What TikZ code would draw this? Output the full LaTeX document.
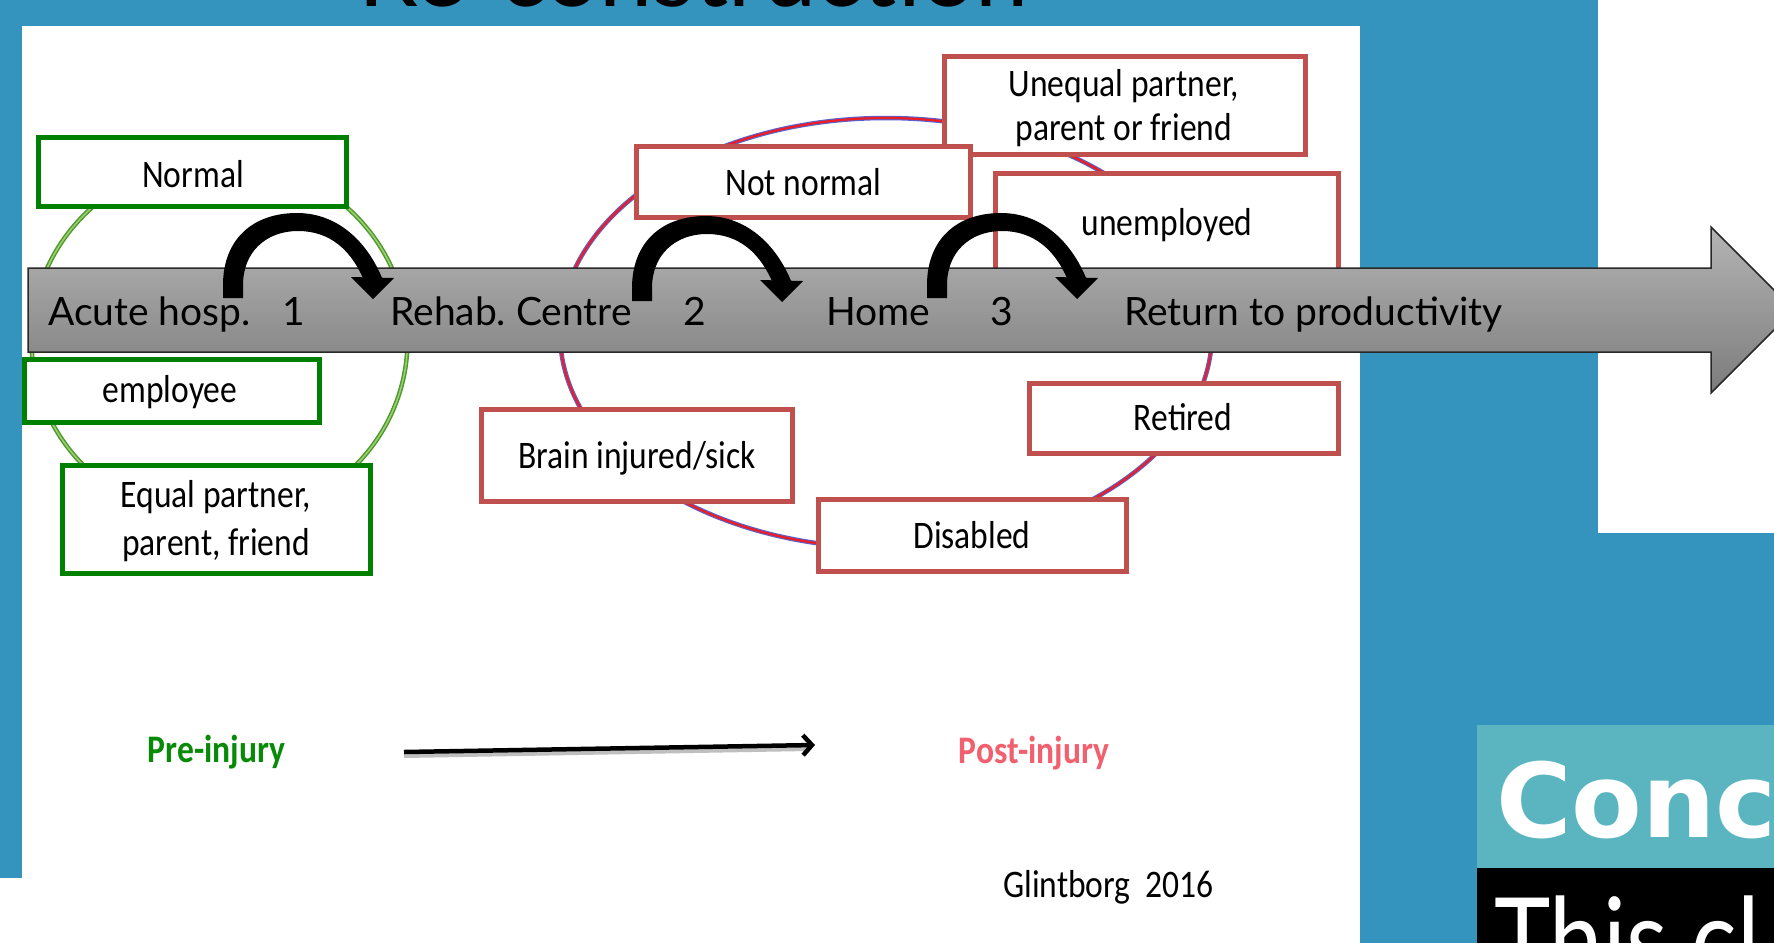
\documentclass[tikz,border=0pt]{standalone}
\usepackage{fontspec}
\setmainfont{Lato}
\newfontfamily\boxfont[FakeStretch=0.86]{Carlito}
\newfontfamily\gillfont{Lato}
\newfontfamily\verdfont{DejaVu Sans}
\newfontfamily\thisfont[FakeStretch=0.83]{Lato}
\usetikzlibrary{arrows.meta}
\frenchspacing
\definecolor{bgblue}{HTML}{3594BD}
\definecolor{boxgreen}{HTML}{008000}
\definecolor{boxred}{HTML}{C0504D}
\definecolor{ellgreen}{HTML}{4F9A28}
\definecolor{ellgreenlt}{HTML}{9CCF7A}
\definecolor{ellred}{HTML}{F01C24}
\definecolor{ellblue}{HTML}{5A60C8}
\definecolor{concteal}{HTML}{5AB5C0}
\definecolor{postred}{HTML}{F0606E}
\definecolor{pregreen}{HTML}{078A07}
\definecolor{arrtop}{HTML}{B4B4B4}
\definecolor{arrbot}{HTML}{7C7C7C}
\definecolor{arredge}{HTML}{282828}
\begin{document}
\begin{tikzpicture}[x=1pt,y=-1pt,
  gbox/.style={draw=boxgreen, line width=5pt, fill=white, inner sep=0pt},
  rbox/.style={draw=boxred, line width=5pt, fill=white, inner sep=0pt},
  lbl/.style={font=\boxfont\fontsize{39pt}{46pt}\selectfont, inner sep=0pt, anchor=base},
  arrtxt/.style={font=\gillfont\fontsize{39pt}{46pt}\selectfont, inner sep=0pt, anchor=base west},
  arrnum/.style={font=\gillfont\fontsize{39pt}{46pt}\selectfont, inner sep=0pt, anchor=base},
  bendarrow/.pic={
    \fill[black] (223,298) -- (223,285) .. controls (223,240) and (252,213) .. (297,213)
      .. controls (340,213) and (370,245) .. (384,283) -- (365,283)
      .. controls (352,250) and (330,231) .. (298,231)
      .. controls (266,231) and (243,252) .. (243,285) -- (243,298) -- cycle;
    \fill[black] (351,277) -- (394,278) -- (373,299) -- cycle;
  }]
\useasboundingbox (0,0) rectangle (1774,943);
\clip (0,0) rectangle (1774,943);
% background panels
\fill[bgblue] (0,0) rectangle (1774,943);
\fill[white] (22,26) rectangle (1360,943);
\fill[white] (0,878) rectangle (22,943);
\fill[white] (1598,0) rectangle (1774,533);
\fill[concteal] (1477,725) rectangle (1774,868);
\fill[black] (1477,868) rectangle (1774,943);
% title
\node[anchor=base west, inner sep=0pt, text=black, font=\gillfont\fontsize{93pt}{93pt}\selectfont] (title) at (358,6) {\resizebox{670pt}{!}{Re-construction}};
% ellipses
\draw[ellgreen, line width=4.5pt] (219.5,340.5) ellipse [x radius=188pt, y radius=181pt];
\draw[ellgreenlt, line width=1.5pt] (219.5,340.5) ellipse [x radius=188pt, y radius=181pt];
\draw[ellblue, line width=4.5pt] (886,333) ellipse [x radius=326pt, y radius=215pt];
\draw[ellred, line width=2.2pt] (886,333) ellipse [x radius=326pt, y radius=215pt];
% green boxes
\node[gbox, minimum width=308pt, minimum height=69pt] (normal) at (192.5,172) {};
\node[gbox, minimum width=294.5pt, minimum height=63pt] (employee) at (171.75,391) {};
\node[gbox, minimum width=308pt, minimum height=108pt] (equal) at (216.5,519.5) {};
% red boxes
\node[rbox, minimum width=361pt, minimum height=98pt] (unequal) at (1125,105.5) {};
\node[rbox, minimum width=334pt, minimum height=71pt] (notnormal) at (803.5,182) {};
\node[rbox, minimum width=343pt, minimum height=124pt] (unemployed) at (1167,235.5) {};
\node[rbox, minimum width=309pt, minimum height=70pt] (retired) at (1184,418.5) {};
\node[rbox, minimum width=308.5pt, minimum height=72pt] (disabled) at (972.25,535.5) {};
\node[rbox, minimum width=311pt, minimum height=92pt] (brain) at (637,455.5) {};
% box labels
\node[lbl] (tnormal) at (193,187) {Normal};
\node[lbl] (temployee) at (170,402) {employee};
\node[lbl] (tequalA) at (216,507) {Equal partner,};
\node[lbl] (tequalB) at (216,555) {parent, friend};
\node[lbl] (tunequalA) at (1124,96) {Unequal partner,};
\node[lbl] (tunequalB) at (1124,140) {parent or friend};
\node[lbl] (tnotnormal) at (803.5,195) {Not normal};
\node[lbl] (tunemployed) at (1167,235) {unemployed};
\node[lbl] (tretired) at (1183,430) {Retired};
\node[lbl] (tdisabled) at (972,548) {Disabled};
\node[lbl] (tbrain) at (637,468) {Brain injured/sick};
% big gray arrow
\shade[top color=arrtop, bottom color=arrbot, draw=arredge, line width=1.5pt]
  (28,268) -- (1711,268) -- (1711,227) -- (1794,310) -- (1711,393) -- (1711,352) -- (28,352) -- cycle;
\node[arrtxt] (acute) at (48,325) {Acute hosp.};
\node[arrnum] (one) at (294,325) {1};
\node[arrtxt] (rehab) at (390,325) {Rehab. Centre};
\node[arrnum] (two) at (695,325) {2};
\node[arrtxt] (home) at (826,325) {Home};
\node[arrnum] (three) at (1002,325) {3};
\node[arrtxt] (return) at (1124,325) {Return to productivity};
% curved black arrows
\pic (arcA) at (0,0) {bendarrow};
\pic (arcB) at (409,3) {bendarrow};
\pic (arcC) at (704,0) {bendarrow};
% bottom texts
\node[lbl, font=\boxfont\bfseries\fontsize{39pt}{46pt}\selectfont, text=pregreen] (pre) at (216.5,762) {Pre-injury};
\node[lbl, font=\boxfont\bfseries\fontsize{39pt}{46pt}\selectfont, text=postred] (post) at (1034,763) {Post-injury};
\coordinate (pa) at (404,752);
\coordinate (pb) at (815,745);
\draw[black!25, line width=4pt] ([yshift=-4pt]pa) -- ([yshift=-4pt,xshift=-6pt]pb);
\draw[line width=4.5pt, -{Straight Barb[length=9pt,width=20pt]}] (pa) -- (pb);
\node[lbl] (glint) at (1108.5,897) {Glintborg\ \ 2016};
% right-hand slide fragments
\node[anchor=base west, inner sep=0pt, text=white, font=\verdfont\bfseries\fontsize{103pt}{103pt}\selectfont] (conc) at (1496,837) {Conc};
\node[anchor=base west, inner sep=0pt, text=white, font=\thisfont\fontsize{115pt}{115pt}\selectfont] (thiscl) at (1494,980) {This cl};
\end{tikzpicture}
\end{document}
